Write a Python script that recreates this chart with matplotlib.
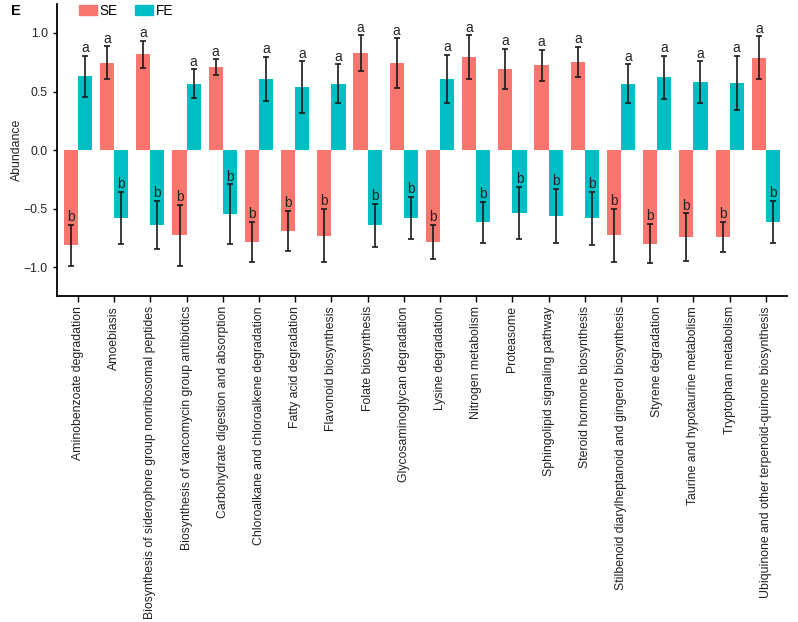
import numpy as np
import matplotlib
matplotlib.use("Agg")
import matplotlib.pyplot as plt
from matplotlib.patches import Patch

plt.rcParams['font.family'] = ['Liberation Sans', 'DejaVu Sans']

pathways = [
    "Aminobenzoate degradation",
    "Amoebiasis",
    "Biosynthesis of siderophore group nonribosomal peptides",
    "Biosynthesis of vancomycin group antibiotics",
    "Carbohydrate digestion and absorption",
    "Chloroalkane and chloroalkene degradation",
    "Fatty acid degradation",
    "Flavonoid biosynthesis",
    "Folate biosynthesis",
    "Glycosaminoglycan degradation",
    "Lysine degradation",
    "Nitrogen metabolism",
    "Proteasome",
    "Sphingolipid signaling pathway",
    "Steroid hormone biosynthesis",
    "Stilbenoid diarylheptanoid and gingerol biosynthesis",
    "Styrene degradation",
    "Taurine and hypotaurine metabolism",
    "Tryptophan metabolism",
    "Ubiquinone and other terpenoid-quinone biosynthesis",
]

# mean abundance and error for the two groups
se_vals = [-0.815, 0.746, 0.82, -0.729, 0.707, -0.783, -0.692, -0.732, 0.826, 0.744,
           -0.786, 0.792, 0.695, 0.726, 0.752, -0.729, -0.801, -0.744, -0.741, 0.789]
se_err = [0.175, 0.14, 0.115, 0.26, 0.067, 0.172, 0.171, 0.228, 0.154, 0.21,
          0.148, 0.187, 0.171, 0.133, 0.128, 0.228, 0.168, 0.204, 0.13, 0.182]
fe_vals = [0.632, -0.579, -0.638, 0.567, -0.55, 0.607, 0.538, 0.567, -0.644, -0.579,
           0.61, -0.618, -0.538, -0.564, -0.584, 0.567, 0.621, 0.578, 0.575, -0.615]
fe_err = [0.175, 0.22, 0.205, 0.123, 0.256, 0.19, 0.22, 0.165, 0.185, 0.18,
          0.204, 0.178, 0.224, 0.231, 0.225, 0.165, 0.185, 0.18, 0.23, 0.182]

# significance letters
se_letters = ['a' if v > 0 else 'b' for v in se_vals]
fe_letters = ['a' if v > 0 else 'b' for v in fe_vals]

se_color = "#F8766D"
fe_color = "#00BFC4"

fig = plt.figure(figsize=(7.98, 6.22), dpi=100)
ax = fig.add_axes([0.0714, 0.5235, 0.9146, 0.4705])

x = np.arange(len(pathways))
w = 0.39

ax.bar(x - w / 2, se_vals, w, color=se_color)
ax.bar(x + w / 2, fe_vals, w, color=fe_color)
ax.errorbar(x - w / 2, se_vals, yerr=se_err, fmt='none', ecolor='#1a1a1a',
            elinewidth=1.2, capsize=2.2, capthick=1.2)
ax.errorbar(x + w / 2, fe_vals, yerr=fe_err, fmt='none', ecolor='#1a1a1a',
            elinewidth=1.2, capsize=2.2, capthick=1.2)

# letters sit on the upper end of each error bar
for xs, vals, errs, letters in [(x - w / 2, se_vals, se_err, se_letters),
                                (x + w / 2, fe_vals, fe_err, fe_letters)]:
    for xi, v, e, l in zip(xs, vals, errs, letters):
        ax.annotate(l, (xi, v + e), xytext=(0, 0.5), textcoords='offset points',
                    ha='center', va='bottom', fontsize=9.8, color='#222222')

ax.set_xlim(-0.58, len(pathways) - 0.42)
ax.set_ylim(-1.25, 1.25)
ax.set_yticks([-1.0, -0.5, 0.0, 0.5, 1.0])
ax.set_yticklabels(["\u22121.0", "\u22120.5", "0.0", "0.5", "1.0"])
ax.set_xticks(x)
ax.set_xticklabels(pathways, rotation=90, fontsize=8.8, color='#222222')
ax.tick_params(axis='y', labelsize=8.8, length=3, width=1, labelcolor='#222222')
ax.tick_params(axis='x', length=4, width=1, pad=3)
ax.set_ylabel("Abundance", fontsize=8.8, color='#222222', labelpad=0.5)

ax.spines['top'].set_visible(False)
ax.spines['right'].set_visible(False)
ax.spines['left'].set_linewidth(1.3)
ax.spines['bottom'].set_linewidth(1.3)

handles = [Patch(color=se_color, label="SE"), Patch(color=fe_color, label="FE")]
fig.legend(handles=handles, loc='center left', bbox_to_anchor=(0.0985, 0.983),
           ncol=2, frameon=False, fontsize=9.8, handlelength=1.34, handleheight=0.8,
           handletextpad=0.2, columnspacing=1.25, borderpad=0, borderaxespad=0)

fig.text(0.014, 0.983, "E", fontsize=10.5, fontweight='bold', va='center')

fig.savefig("out.png", dpi=100)
